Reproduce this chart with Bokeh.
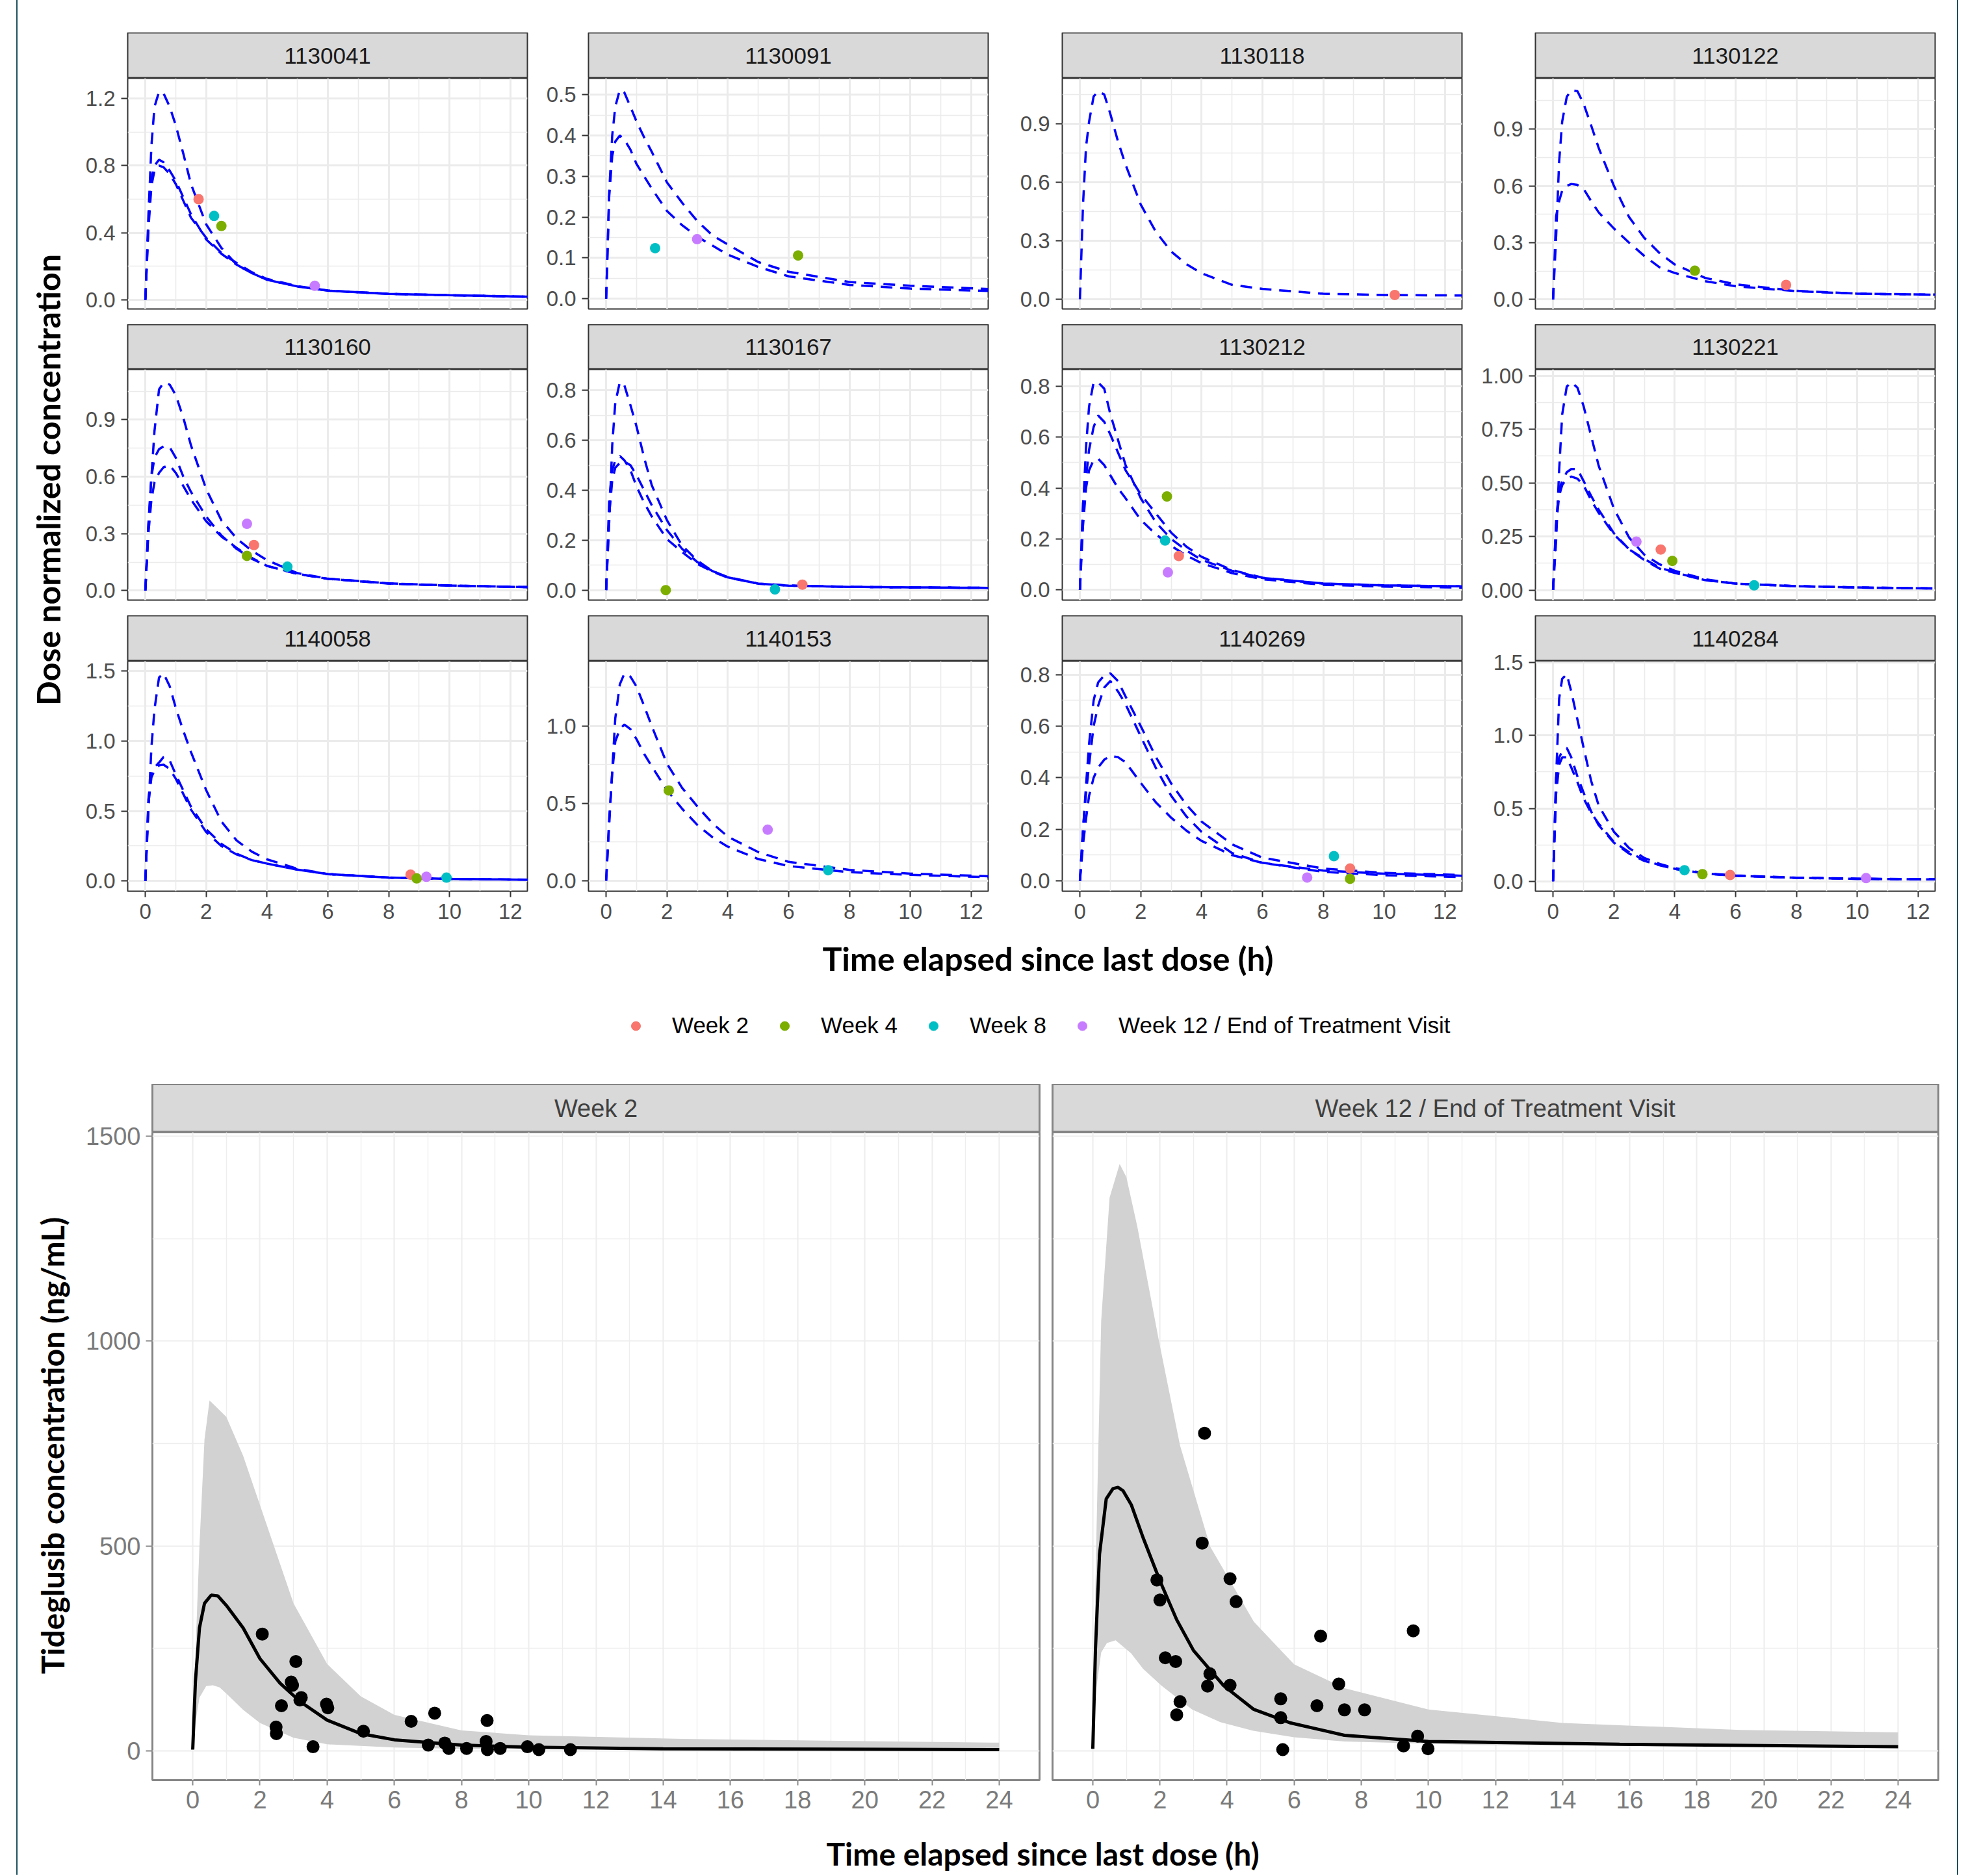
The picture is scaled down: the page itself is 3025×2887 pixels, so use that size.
import numpy as np
from bokeh.plotting import figure
from bokeh.layouts import row, column
from bokeh.models import Range1d, FixedTicker, Spacer, Legend, LegendItem, PrintfTickFormatter
from bokeh.core.properties import value
from bokeh.embed import file_html
from bokeh.resources import INLINE

# ------------------------------------------------------------------ data
VISIT_LABELS = ["Week 2", "Week 4", "Week 8", "Week 12 / End of Treatment Visit"]
VISIT_COLORS = ["#F8766D", "#7CAE00", "#00BFC4", "#C77CFF"]

SUBJECTS = ["1130041", "1130091", "1130118", "1130122",
            "1130160", "1130167", "1130212", "1130221",
            "1140058", "1140153", "1140269", "1140284"]

# time grid (h) of the individual predicted profiles (top panels)
T_TOP = [0, 0.1, 0.2, 0.3, 0.45, 0.6, 0.8, 1.0, 1.25, 1.5, 2.0, 2.5, 3.0, 3.5, 4.0, 5.0, 6.0, 8.0, 10.0, 12.6]

CURVES_1130041 = [
    [0, 0.50, 0.92, 1.15, 1.24, 1.23, 1.15, 1.04, 0.87, 0.69, 0.45, 0.31, 0.21, 0.16, 0.12, 0.08, 0.055, 0.036, 0.028, 0.019],
    [0, 0.45, 0.72, 0.80, 0.835, 0.82, 0.77, 0.71, 0.61, 0.51, 0.36, 0.275, 0.21, 0.16, 0.12, 0.08, 0.055, 0.036, 0.028, 0.019],
    [0, 0.42, 0.68, 0.77, 0.80, 0.79, 0.75, 0.69, 0.59, 0.49, 0.37, 0.28, 0.22, 0.165, 0.125, 0.082, 0.056, 0.036, 0.028, 0.019]]
CURVES_1130091 = [
    [0, 0.26, 0.40, 0.47, 0.512, 0.505, 0.47, 0.434, 0.395, 0.36, 0.285, 0.235, 0.19, 0.155, 0.133, 0.09, 0.066, 0.041, 0.032, 0.024],
    [0, 0.25, 0.35, 0.385, 0.40, 0.39, 0.365, 0.33, 0.30, 0.27, 0.215, 0.18, 0.152, 0.13, 0.108, 0.078, 0.055, 0.034, 0.025, 0.019]]
CURVES_1130118 = [
    [0, 0.48, 0.78, 0.91, 1.04, 1.066, 1.05, 0.95, 0.81, 0.69, 0.485, 0.345, 0.245, 0.18, 0.133, 0.074, 0.053, 0.028, 0.022, 0.019]]
CURVES_1130122 = [
    [0, 0.33, 0.73, 0.94, 1.07, 1.105, 1.10, 1.035, 0.92, 0.80, 0.60, 0.435, 0.325, 0.245, 0.185, 0.114, 0.08, 0.046, 0.031, 0.026],
    [0, 0.44, 0.52, 0.575, 0.60, 0.61, 0.605, 0.585, 0.52, 0.46, 0.375, 0.30, 0.23, 0.17, 0.14, 0.097, 0.07, 0.044, 0.031, 0.025]]
CURVES_1130160 = [
    [0, 0.34, 0.60, 0.84, 1.06, 1.095, 1.085, 1.03, 0.91, 0.765, 0.535, 0.37, 0.275, 0.21, 0.16, 0.092, 0.063, 0.038, 0.027, 0.018],
    [0, 0.35, 0.60, 0.70, 0.745, 0.76, 0.755, 0.70, 0.60, 0.52, 0.39, 0.29, 0.22, 0.168, 0.13, 0.088, 0.062, 0.038, 0.027, 0.018],
    [0, 0.30, 0.48, 0.57, 0.62, 0.65, 0.66, 0.62, 0.55, 0.48, 0.365, 0.285, 0.225, 0.172, 0.13, 0.088, 0.062, 0.037, 0.026, 0.018]]
CURVES_1130167 = [
    [0, 0.27, 0.58, 0.75, 0.833, 0.82, 0.74, 0.655, 0.53, 0.42, 0.28, 0.178, 0.118, 0.076, 0.052, 0.026, 0.018, 0.013, 0.011, 0.009],
    [0, 0.36, 0.48, 0.52, 0.537, 0.52, 0.48, 0.415, 0.35, 0.295, 0.204, 0.152, 0.105, 0.074, 0.05, 0.026, 0.018, 0.013, 0.011, 0.009],
    [0, 0.30, 0.44, 0.49, 0.51, 0.515, 0.50, 0.46, 0.40, 0.34, 0.24, 0.165, 0.112, 0.076, 0.051, 0.026, 0.018, 0.013, 0.011, 0.009]]
CURVES_1130212 = [
    [0, 0.31, 0.56, 0.72, 0.815, 0.815, 0.79, 0.69, 0.59, 0.49, 0.36, 0.265, 0.20, 0.155, 0.118, 0.075, 0.047, 0.025, 0.018, 0.014],
    [0, 0.34, 0.44, 0.55, 0.64, 0.685, 0.66, 0.61, 0.54, 0.47, 0.375, 0.30, 0.225, 0.17, 0.13, 0.078, 0.048, 0.025, 0.018, 0.014],
    [0, 0.25, 0.40, 0.47, 0.51, 0.515, 0.49, 0.45, 0.40, 0.36, 0.275, 0.218, 0.173, 0.135, 0.105, 0.066, 0.042, 0.02, 0.013, 0.009]]
CURVES_1130221 = [
    [0, 0.23, 0.56, 0.82, 0.95, 0.97, 0.945, 0.86, 0.72, 0.58, 0.38, 0.245, 0.165, 0.12, 0.09, 0.05, 0.03, 0.018, 0.012, 0.007],
    [0, 0.32, 0.47, 0.51, 0.55, 0.565, 0.565, 0.51, 0.44, 0.375, 0.265, 0.19, 0.14, 0.10, 0.08, 0.046, 0.03, 0.018, 0.012, 0.007],
    [0, 0.30, 0.44, 0.49, 0.52, 0.53, 0.52, 0.49, 0.42, 0.36, 0.26, 0.19, 0.145, 0.105, 0.082, 0.046, 0.03, 0.018, 0.012, 0.007]]
CURVES_1140058 = [
    [0, 0.50, 0.956, 1.225, 1.452, 1.48, 1.39, 1.235, 1.07, 0.92, 0.648, 0.425, 0.29, 0.21, 0.155, 0.088, 0.05, 0.025, 0.016, 0.01],
    [0, 0.58, 0.77, 0.81, 0.845, 0.885, 0.86, 0.76, 0.645, 0.53, 0.37, 0.265, 0.195, 0.15, 0.125, 0.082, 0.05, 0.025, 0.016, 0.01],
    [0, 0.55, 0.74, 0.79, 0.825, 0.83, 0.80, 0.73, 0.62, 0.51, 0.35, 0.25, 0.19, 0.15, 0.125, 0.082, 0.05, 0.025, 0.016, 0.01]]
CURVES_1140153 = [
    [0, 0.36, 0.71, 1.05, 1.27, 1.34, 1.32, 1.255, 1.13, 1.0, 0.756, 0.60, 0.48, 0.37, 0.285, 0.185, 0.122, 0.07, 0.046, 0.029],
    [0, 0.40, 0.70, 0.90, 0.98, 1.01, 0.98, 0.915, 0.82, 0.74, 0.585, 0.465, 0.36, 0.28, 0.22, 0.14, 0.095, 0.055, 0.038, 0.022]]
CURVES_1140269 = [
    [0, 0.195, 0.37, 0.53, 0.70, 0.77, 0.797, 0.805, 0.775, 0.715, 0.60, 0.48, 0.378, 0.295, 0.23, 0.142, 0.09, 0.048, 0.031, 0.023],
    [0, 0.20, 0.34, 0.45, 0.60, 0.68, 0.75, 0.775, 0.735, 0.685, 0.56, 0.437, 0.33, 0.25, 0.19, 0.108, 0.07, 0.04, 0.028, 0.02],
    [0, 0.14, 0.24, 0.33, 0.40, 0.44, 0.47, 0.485, 0.48, 0.46, 0.38, 0.304, 0.245, 0.195, 0.155, 0.10, 0.07, 0.035, 0.022, 0.015]]
CURVES_1140284 = [
    [0, 0.71, 1.255, 1.39, 1.42, 1.30, 1.11, 0.92, 0.69, 0.52, 0.34, 0.228, 0.16, 0.12, 0.09, 0.055, 0.04, 0.025, 0.018, 0.014],
    [0, 0.71, 0.85, 0.89, 0.915, 0.85, 0.72, 0.61, 0.48, 0.385, 0.265, 0.19, 0.14, 0.11, 0.085, 0.053, 0.038, 0.024, 0.017, 0.013],
    [0, 0.60, 0.80, 0.85, 0.85, 0.78, 0.68, 0.57, 0.47, 0.395, 0.27, 0.20, 0.145, 0.112, 0.086, 0.053, 0.038, 0.024, 0.017, 0.013]]

# observed dose-normalised concentrations: (time h, concentration, visit index)
OBS_1130041 = [(1.75, 0.60, 0), (2.26, 0.50, 2), (2.50, 0.44, 1), (5.57, 0.084, 3)]
OBS_1130091 = [(1.61, 0.124, 2), (2.99, 0.146, 3), (6.31, 0.106, 1)]
OBS_1130118 = [(10.35, 0.022, 0)]
OBS_1130122 = [(4.66, 0.152, 1), (7.66, 0.077, 0)]
OBS_1130160 = [(3.34, 0.352, 3), (3.57, 0.24, 0), (3.34, 0.183, 1), (4.67, 0.126, 2)]
OBS_1130167 = [(1.96, 0.0, 1), (5.55, 0.003, 2), (6.45, 0.022, 0)]
OBS_1130212 = [(2.86, 0.367, 1), (2.80, 0.194, 2), (3.25, 0.133, 0), (2.89, 0.069, 3)]
OBS_1130221 = [(2.74, 0.226, 3), (3.54, 0.189, 0), (3.92, 0.136, 1), (6.61, 0.022, 2)]
OBS_1140058 = [(8.72, 0.046, 0), (8.92, 0.019, 1), (9.24, 0.031, 3), (9.90, 0.025, 2)]
OBS_1140153 = [(2.06, 0.584, 1), (5.31, 0.33, 3), (7.30, 0.068, 2)]
OBS_1140269 = [(8.35, 0.096, 2), (8.88, 0.048, 0), (8.88, 0.008, 1), (7.47, 0.013, 3)]
OBS_1140284 = [(4.32, 0.076, 2), (4.91, 0.049, 1), (5.82, 0.043, 0), (10.29, 0.022, 3)]

# y axes (free scales per panel)
YLIM = [(-0.054, 1.32), (-0.025, 0.54), (-0.05, 1.133), (-0.05, 1.168),
        (-0.05, 1.165), (-0.04, 0.884), (-0.04, 0.866), (-0.047, 1.03),
        (-0.072, 1.568), (-0.068, 1.42), (-0.04, 0.852), (-0.068, 1.51)]
YTICKS = [[0, 0.4, 0.8, 1.2], [0, 0.1, 0.2, 0.3, 0.4, 0.5], [0, 0.3, 0.6, 0.9], [0, 0.3, 0.6, 0.9],
          [0, 0.3, 0.6, 0.9], [0, 0.2, 0.4, 0.6, 0.8], [0, 0.2, 0.4, 0.6, 0.8], [0, 0.25, 0.5, 0.75, 1.0],
          [0, 0.5, 1.0, 1.5], [0, 0.5, 1.0], [0, 0.2, 0.4, 0.6, 0.8], [0, 0.5, 1.0, 1.5]]
YMINOR = [[0.2, 0.6, 1.0], [0.05, 0.15, 0.25, 0.35, 0.45], [0.15, 0.45, 0.75, 1.05], [0.15, 0.45, 0.75, 1.05],
          [0.15, 0.45, 0.75, 1.05], [0.1, 0.3, 0.5, 0.7], [0.1, 0.3, 0.5, 0.7], [0.125, 0.375, 0.625, 0.875],
          [0.25, 0.75, 1.25], [0.25, 0.75, 1.25], [0.1, 0.3, 0.5, 0.7], [0.25, 0.75, 1.25]]
YFMT = ["%.1f"] * 7 + ["%.2f"] + ["%.1f"] * 4
XLIM_TOP = (-0.58, 12.56)
XTICKS_TOP = [0, 2, 4, 6, 8, 10, 12]
XMINOR_TOP = [1, 3, 5, 7, 9, 11]

# population predictions (bottom panels), ng/mL
W2_MED_T = [0, 0.08, 0.2, 0.35, 0.55, 0.75, 1.0, 1.5, 2.0, 2.6, 3.2, 4.0, 5.0, 6.0, 8.0, 10.0, 14.0, 24.0]
W2_MED_C = [3, 170, 300, 360, 380, 378, 355, 300, 225, 165, 120, 75, 42, 27, 14, 9, 5, 3]
W2_UP_T = [0, 0.1, 0.2, 0.35, 0.5, 0.75, 1.0, 1.5, 2.0, 3.0, 4.0, 5.0, 6.0, 8.0, 10.0, 14.6, 24.0]
W2_UP_C = [3, 280, 500, 760, 855, 835, 815, 720, 600, 360, 212, 133, 88, 50, 38, 29, 20]
W2_LO_T = [0, 0.1, 0.2, 0.4, 0.6, 0.8, 1.0, 1.5, 2.0, 3.0, 4.0, 6.0, 8.0, 24.0]
W2_LO_C = [3, 80, 130, 158, 160, 155, 140, 100, 68, 32, 16, 8, 5, 2]
W2_OBS_T = [2.07, 3.07, 2.93, 2.97, 3.19, 3.23, 2.64, 3.98, 4.02, 2.48, 2.49, 3.58, 5.08, 6.50, 7.20, 8.76,
            7.01, 7.50, 7.62, 8.15, 8.73, 8.77, 9.15, 9.96, 10.30, 11.24]
W2_OBS_C = [285, 218, 168, 160, 124, 130, 110, 114, 105, 58, 42, 10, 48, 72, 92, 74,
            14, 19, 6, 6, 23, 3, 6, 10, 3, 3]

W12_MED_T = [0, 0.08, 0.2, 0.4, 0.6, 0.75, 0.9, 1.15, 1.5, 2.0, 2.5, 3.0, 3.9, 4.8, 5.9, 7.5, 10.0, 15.7, 24.0]
W12_MED_C = [5, 250, 480, 615, 640, 643, 635, 600, 520, 415, 320, 245, 159, 101, 68, 38, 23, 16, 10]
W12_UP_T = [0, 0.1, 0.25, 0.5, 0.8, 1.0, 1.33, 1.96, 2.6, 3.5, 4.8, 6.0, 7.5, 10.0, 14.0, 19.3, 24.0]
W12_UP_C = [5, 500, 1050, 1350, 1432, 1400, 1278, 1005, 745, 498, 315, 211, 153, 101, 68, 51, 45]
W12_LO_T = [0, 0.1, 0.25, 0.42, 0.68, 1.14, 1.5, 2.05, 2.96, 3.8, 4.78, 6.0, 7.5, 11.6, 24.0]
W12_LO_C = [5, 150, 240, 263, 270, 238, 200, 159, 101, 70, 49, 33, 23, 14, 10]
W12_OBS_T = [3.33, 3.26, 1.91, 2.00, 4.09, 4.27, 2.16, 2.47, 2.60, 2.50, 3.49, 3.42, 4.09, 5.60, 5.60, 5.66,
             6.79, 6.68, 7.33, 7.50, 8.10, 9.55, 9.68, 9.26, 9.99]
W12_OBS_C = [775, 507, 417, 368, 420, 364, 227, 218, 120, 88, 188, 158, 160, 127, 81, 3,
             280, 110, 163, 100, 100, 293, 36, 12, 5]

XLIM_BOT = (-1.2, 25.2)
YLIM_BOT = (-71.5, 1509.5)
XTICKS_BOT = list(range(0, 25, 2))
XMINOR_BOT = list(range(1, 25, 2))
YTICKS_BOT = [0, 500, 1000, 1500]
YMINOR_BOT = [250, 750, 1250]

ALL_CURVES = [CURVES_1130041, CURVES_1130091, CURVES_1130118, CURVES_1130122,
              CURVES_1130160, CURVES_1130167, CURVES_1130212, CURVES_1130221,
              CURVES_1140058, CURVES_1140153, CURVES_1140269, CURVES_1140284]
ALL_OBS = [OBS_1130041, OBS_1130091, OBS_1130118, OBS_1130122,
           OBS_1130160, OBS_1130167, OBS_1130212, OBS_1130221,
           OBS_1140058, OBS_1140153, OBS_1140269, OBS_1140284]

# ------------------------------------------------------------------ layout constants (px)
TICK_FONT = "Liberation Sans"
TITLE_FONT = "Lato"
TOP_CELLS = [(710, 86, 9), (710, 85, 10), (726, 104, 7), (755, 106, 34)]  # width, left border, right border
STRIP_H = [70, 69, 70]
FRAME_H = [355, 355, 354]
PANEL_BB = [24, 24, 69]
OV = 24   # panel canvases reach up behind the strip so top tick labels are not cut


def blank_fig(w, h, xr, yr, **kw):
    f = figure(width=w, height=h, x_range=xr, y_range=yr, x_axis_location=None, y_axis_location=None,
               output_backend="svg", toolbar_location=None, **kw)
    f.grid.visible = False
    f.outline_line_color = None
    f.background_fill_color = None
    f.border_fill_color = None
    return f


def strip_fig(label, w, mbl, mbr, h, fsize, line_color, line_width, text_color):
    s = blank_fig(w, h, Range1d(0, 1), Range1d(0, 1), min_border_left=mbl, min_border_right=mbr,
                  min_border_top=0, min_border_bottom=0)
    s.background_fill_color = "#D9D9D9"
    s.outline_line_color = line_color
    s.outline_line_width = line_width
    s.text(x=[0.5], y=[0.5], text=[label], text_align="center", text_baseline="middle",
           text_font=value(TICK_FONT), text_font_size=fsize, text_color=text_color)
    return s


def style_grid(p, xt, xm, yt, ym, color, wmaj, wmin):
    p.xgrid.ticker = FixedTicker(ticks=xt, minor_ticks=xm)
    p.ygrid.ticker = FixedTicker(ticks=yt, minor_ticks=ym)
    for g in (p.xgrid, p.ygrid):
        g.grid_line_color = color
        g.grid_line_width = wmaj
        g.minor_grid_line_color = color
        g.minor_grid_line_width = wmin


def style_axis(ax, ticks, minor, size, color, tick_color, standoff, tick_out):
    ax.ticker = FixedTicker(ticks=ticks, minor_ticks=minor)
    ax.axis_line_color = None
    ax.major_tick_line_color = tick_color
    ax.major_tick_line_width = 2
    ax.major_tick_out = tick_out
    ax.major_tick_in = 0
    ax.minor_tick_line_color = None
    ax.major_label_text_font = TICK_FONT
    ax.major_label_text_font_size = size
    ax.major_label_text_color = color
    ax.major_label_standoff = standoff


def top_panel(i, r, c):
    w, mbl, mbr = TOP_CELLS[c]
    show_x = (r == 2)
    p = figure(width=w, height=OV + FRAME_H[r] + PANEL_BB[r],
               x_range=Range1d(*XLIM_TOP), y_range=Range1d(*YLIM[i]),
               x_axis_location="below" if show_x else None, y_axis_location="left",
               output_backend="svg", toolbar_location=None,
               min_border_left=mbl, min_border_right=mbr, min_border_top=OV,
               min_border_bottom=PANEL_BB[r], styles={"margin-top": "-%dpx" % OV})
    p.background_fill_color = "white"
    p.border_fill_color = None
    p.outline_line_color = "#333333"
    p.outline_line_width = 2
    style_grid(p, XTICKS_TOP, XMINOR_TOP, YTICKS[i], YMINOR[i], "#EBEBEB", 3, 1.6)
    style_axis(p.yaxis[0], YTICKS[i], YMINOR[i], "33px", "#4D4D4D", "#333333", 9, 10)
    p.yaxis[0].formatter = PrintfTickFormatter(format=YFMT[i])
    if show_x:
        style_axis(p.xaxis[0], XTICKS_TOP, XMINOR_TOP, "33px", "#4D4D4D", "#333333", 10, 9)
    for cv in ALL_CURVES[i]:
        p.line(T_TOP, cv, line_color="#0000FF", line_width=3.5, line_dash="18 12")
    obs = ALL_OBS[i]
    p.scatter([o[0] for o in obs], [o[1] for o in obs], size=16,
              fill_color=[VISIT_COLORS[o[2]] for o in obs], line_color=None)
    s = strip_fig(SUBJECTS[i], w, mbl, mbr, STRIP_H[r], "35px", "#333333", 2, "#1A1A1A")
    return column([s, p], spacing=0)


# ------------------------------------------------------------------ top facets
grid_rows = []
for r in range(3):
    grid_rows.append(row([top_panel(r * 4 + c, r, c) for c in range(4)], spacing=0))
top_grid = column(grid_rows, spacing=0)

ytitle_top = blank_fig(83, 1390, Range1d(27, 110), Range1d(1440, 50), min_border=0)
ytitle_top.text(x=[73], y=[738], text=["Dose normalized concentration"], angle=np.pi / 2,
                text_align="center", text_baseline="middle", text_font=value(TITLE_FONT),
                text_font_style="bold", text_font_size="50px", text_color="black")
top_section = row([ytitle_top, top_grid], spacing=0)

xtitle_top = blank_fig(2984, 80, Range1d(27, 3011), Range1d(1520, 1440), min_border=0)
xtitle_top.text(x=[1612], y=[1474], text=["Time elapsed since last dose (h)"], text_align="center",
                text_baseline="middle", text_font=value(TITLE_FONT), text_font_style="bold",
                text_font_size="50px", text_color="black")

# legend (keys only; the renderers are hidden so nothing is drawn in the frame)
leg_fig = blank_fig(2984, 148, Range1d(0, 1), Range1d(0, 1), min_border=0)
items = []
for lab, col in zip(VISIT_LABELS, VISIT_COLORS):
    rr = leg_fig.scatter(x=[0.5], y=[0.5], size=14, fill_color=col, line_color=col)
    rr.visible = False
    items.append(LegendItem(label=lab, renderers=[rr]))
legend = Legend(items=items, orientation="horizontal", location=(931, 70), glyph_width=40, glyph_height=35,
                label_standoff=36, spacing=35, padding=0, margin=0, border_line_color=None,
                background_fill_alpha=0, label_text_font=TICK_FONT, label_text_font_size="35px",
                label_text_color="black", label_height=40)
leg_fig.add_layout(legend, "center")


# ------------------------------------------------------------------ bottom panels
def bottom_panel(label, w, mbl, mbr, show_y, med_t, med_c, up_t, up_c, lo_t, lo_c, ob_t, ob_c):
    s = strip_fig(label, w, mbl, mbr, 74, "38px", "#858585", 3, "#404040")
    p = figure(width=w, height=OV + 997 + 71, x_range=Range1d(*XLIM_BOT), y_range=Range1d(*YLIM_BOT),
               x_axis_location="below", y_axis_location="left" if show_y else None,
               output_backend="svg", toolbar_location=None,
               min_border_left=mbl, min_border_right=mbr, min_border_top=OV, min_border_bottom=71,
               styles={"margin-top": "-%dpx" % OV})
    p.border_fill_color = None
    p.outline_line_color = "#858585"
    p.outline_line_width = 3
    style_grid(p, XTICKS_BOT, XMINOR_BOT, YTICKS_BOT, YMINOR_BOT, "#EEEEEE", 2.2, 1.4)
    style_axis(p.xaxis[0], XTICKS_BOT, XMINOR_BOT, "38px", "#7A7A7A", "#8A8A8A", 8, 8)
    if show_y:
        style_axis(p.yaxis[0], YTICKS_BOT, YMINOR_BOT, "38px", "#7A7A7A", "#8A8A8A", 8, 10)
    p.patch(up_t + lo_t[::-1], up_c + lo_c[::-1], fill_color="#D2D2D2", line_color=None)
    p.line(med_t, med_c, line_color="black", line_width=5)
    p.scatter(ob_t, ob_c, size=20, fill_color="black", line_color=None)
    return column([s, p], spacing=0)


bl = bottom_panel("Week 2", 1489, 114, 10, True, W2_MED_T, W2_MED_C, W2_UP_T, W2_UP_C,
                  W2_LO_T, W2_LO_C, W2_OBS_T, W2_OBS_C)
br = bottom_panel("Week 12 / End of Treatment Visit", 1402, 10, 29, False, W12_MED_T, W12_MED_C,
                  W12_UP_T, W12_UP_C, W12_LO_T, W12_LO_C, W12_OBS_T, W12_OBS_C)

ytitle_bot = blank_fig(93, 1142, Range1d(27, 120), Range1d(2810, 1668), min_border=0)
ytitle_bot.text(x=[80], y=[2224], text=["Tideglusib concentration (ng/mL)"], angle=np.pi / 2,
                text_align="center", text_baseline="middle", text_font=value(TITLE_FONT),
                text_font_style="bold", text_font_size="48px", text_color="black")
bottom_section = row([ytitle_bot, bl, br], spacing=0)

xtitle_bot = blank_fig(2984, 75, Range1d(27, 3011), Range1d(2885, 2810), min_border=0)
xtitle_bot.text(x=[1604], y=[2852], text=["Time elapsed since last dose (h)"], text_align="center",
                text_baseline="middle", text_font=value(TITLE_FONT), text_font_style="bold",
                text_font_size="48px", text_color="black")

content = column([Spacer(width=2984, height=50), top_section, xtitle_top, leg_fig,
                  bottom_section, xtitle_bot], spacing=0)

line_l = Spacer(width=2, height=2885, styles={"background-color": "#1E5060"})
line_r = Spacer(width=2, height=2885, styles={"background-color": "#1E5060"})
root = row([Spacer(width=25, height=2885), line_l, content, line_r], spacing=0)

open("out.html", "w").write(file_html(root, INLINE))
